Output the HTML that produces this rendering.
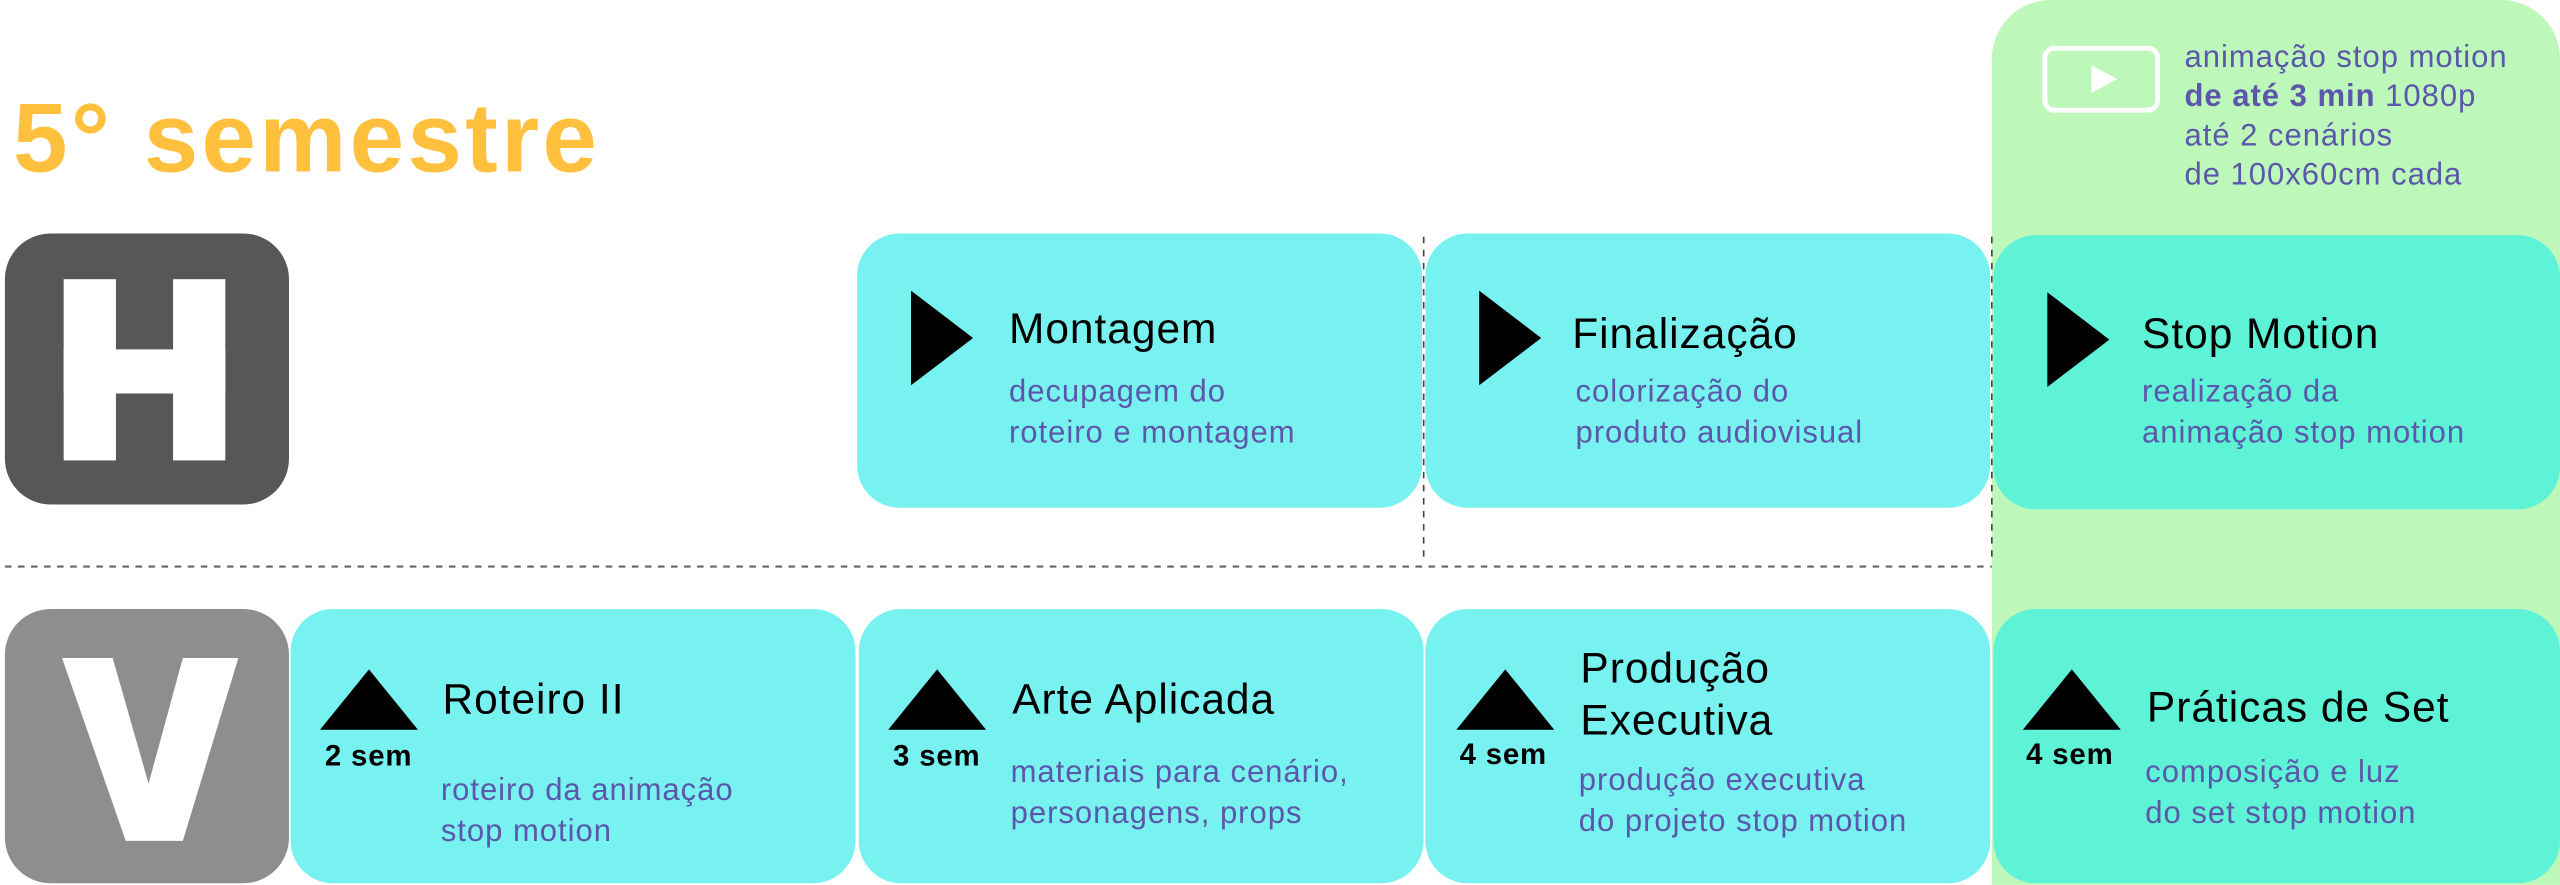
<!DOCTYPE html>
<html><head><meta charset="utf-8"><style>
html,body{margin:0;padding:0;background:#fff;overflow:hidden}
body{width:2560px;height:884px}
#w{position:absolute;left:0;top:0;width:1568px;height:542px;transform:scale(1.63265);transform-origin:0 0;font-family:"Liberation Sans",sans-serif}
.a{position:absolute}
.card{position:absolute;background:#78F2F0;border-radius:26px}
.dk{background:#5EF2D6}
.t{position:absolute;font-size:26px;color:#000;line-height:32px;white-space:nowrap;letter-spacing:0.6px}
.s{position:absolute;font-size:19px;color:#5B57AA;line-height:25px;white-space:nowrap;letter-spacing:0.6px}
.sem{position:absolute;font-size:18px;font-weight:bold;color:#000;line-height:20px;white-space:nowrap;letter-spacing:0.5px}
.tr{position:absolute;width:0;height:0;border-top:29px solid transparent;border-bottom:29px solid transparent;border-left:38px solid #000}
.tu{position:absolute;width:0;height:0;border-left:30px solid transparent;border-right:30px solid transparent;border-bottom:37px solid #000}
</style></head><body><div id="w">
<div class="a" style="left:1220px;top:0;width:348px;height:542px;background:#BEF7BA;border-radius:36px 36px 0 0"></div>
<div class="a" style="left:8px;top:50px;font-size:60px;font-weight:bold;color:#FFC03D;line-height:70px;letter-spacing:2px">5° semestre</div>

<div class="a" style="left:3px;top:143px;width:174px;height:166px;background:#575757;border-radius:28px"></div>
<div class="a" style="left:39px;top:171px;width:32px;height:111px;background:#fff"></div>
<div class="a" style="left:106px;top:171px;width:32px;height:111px;background:#fff"></div>
<div class="a" style="left:39px;top:214px;width:99px;height:27px;background:#fff"></div>

<div class="a" style="left:3px;top:373px;width:174px;height:168px;background:#8E8E8E;border-radius:28px"></div>
<svg class="a" style="left:0;top:0" width="200" height="542"><polygon points="38,403 69,403 91,480 112,403 146,403 112,515 77,515" fill="#fff"/></svg>

<svg class="a" style="left:0;top:0" width="1568" height="542">
<line x1="3" y1="347" x2="1220" y2="347" stroke="#666" stroke-width="1.3" stroke-dasharray="4,4"/>
<line x1="872" y1="145" x2="872" y2="345" stroke="#444" stroke-width="1" stroke-dasharray="4,4"/>
<line x1="1220" y1="145" x2="1220" y2="345" stroke="#444" stroke-width="1" stroke-dasharray="4,4"/>
<rect x="1252.5" y="29.5" width="69" height="38" rx="6" fill="none" stroke="#fff" stroke-width="3"/>
<polygon points="1281,40 1297,48.5 1281,57" fill="#fff"/>
</svg>
<div class="s" style="left:1338px;top:24px;line-height:24px">animação stop motion<br><b>de até 3 min</b> 1080p<br>até 2 cenários<br>de 100x60cm cada</div>

<div class="card" style="left:525px;top:143px;width:346px;height:168px"></div>
<div class="tr" style="left:558px;top:178px"></div>
<div class="t" style="left:618px;top:185px">Montagem</div>
<div class="s" style="left:618px;top:228px">decupagem do<br>roteiro e montagem</div>

<div class="card" style="left:873px;top:143px;width:346px;height:168px"></div>
<div class="tr" style="left:906px;top:178px"></div>
<div class="t" style="left:963px;top:188px">Finalização</div>
<div class="s" style="left:965px;top:228px">colorização do<br>produto audiovisual</div>

<div class="card dk" style="left:1221px;top:144px;width:347px;height:168px"></div>
<div class="tr" style="left:1254px;top:179px"></div>
<div class="t" style="left:1312px;top:188px">Stop Motion</div>
<div class="s" style="left:1312px;top:228px">realização da<br>animação stop motion</div>

<div class="card" style="left:178px;top:373px;width:346px;height:168px"></div>
<div class="tu" style="left:196px;top:410px"></div>
<div class="sem" style="left:199px;top:453px">2 sem</div>
<div class="t" style="left:271px;top:412px">Roteiro II</div>
<div class="s" style="left:270px;top:472px">roteiro da animação<br>stop motion</div>

<div class="card" style="left:526px;top:373px;width:346px;height:168px"></div>
<div class="tu" style="left:544px;top:410px"></div>
<div class="sem" style="left:547px;top:453px">3 sem</div>
<div class="t" style="left:620px;top:412px">Arte Aplicada</div>
<div class="s" style="left:619px;top:461px">materiais para cenário,<br>personagens, props</div>

<div class="card" style="left:873px;top:373px;width:346px;height:168px"></div>
<div class="tu" style="left:892px;top:410px"></div>
<div class="sem" style="left:894px;top:452px">4 sem</div>
<div class="t" style="left:968px;top:393px">Produção<br>Executiva</div>
<div class="s" style="left:967px;top:466px">produção executiva<br>do projeto stop motion</div>

<div class="card dk" style="left:1221px;top:373px;width:347px;height:168px"></div>
<div class="tu" style="left:1239px;top:410px"></div>
<div class="sem" style="left:1241px;top:452px">4 sem</div>
<div class="t" style="left:1315px;top:417px">Práticas de Set</div>
<div class="s" style="left:1314px;top:461px">composição e luz<br>do set stop motion</div>
</div></body></html>
